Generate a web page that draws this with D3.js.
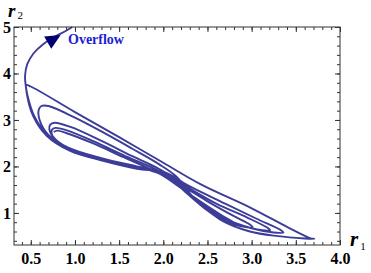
<!DOCTYPE html>
<html>
<head>
<meta charset="utf-8">
<script src="https://cdn.jsdelivr.net/npm/d3@7/dist/d3.min.js"></script>
<style>
  body { margin: 0; background: #fff; }
  svg { display: block; }
  .tick text { font-family: "Liberation Serif", "DejaVu Serif", serif; font-weight: bold; font-size: 16px; fill: #000; }
</style>
</head>
<body>
<script>
//tick values read from the frame
var xTicks = [0.5, 1.0, 1.5, 2.0, 2.5, 3.0, 3.5, 4.0];
var yTicks = [1, 2, 3, 4, 5];
var xMinor = d3.range(4, 41).map(function(d){ return d / 10; });
var yMinor = d3.range(2, 26).map(function(d){ return d / 5; });

//trajectory (r1, r2), in order
var r1 = [
  0.76, 0.80, 0.90, 1.20, 1.55, 1.85, 2.05,
  2.25, 2.50, 2.68, 2.78, 2.82,
  2.80, 2.65, 2.40, 2.15, 1.95,
  1.70, 1.35, 1.00, 0.82, 0.74, 0.74,
  0.78, 0.90, 1.20, 1.60, 1.90, 2.10,
  2.30, 2.55, 2.80, 2.95, 3.01,
  2.98, 2.80, 2.50, 2.20, 1.97,
  1.70, 1.30, 0.97, 0.78, 0.71, 0.72,
  0.77, 0.95, 1.30, 1.65, 1.95, 2.12,
  2.32, 2.60, 2.90, 3.12, 3.21,
  3.18, 2.95, 2.60, 2.25, 2.00,
  1.70, 1.30, 0.93, 0.70, 0.60, 0.59, 0.62,
  0.70, 1.00, 1.35, 1.65, 1.95, 2.15,
  2.35, 2.65, 3.00, 3.25, 3.36,
  3.33, 3.05, 2.70, 2.30, 2.02,
  1.70, 1.32, 0.94, 0.68, 0.53, 0.455, 0.45,
  0.50, 1.00, 1.50, 2.00, 2.42, 3.00, 3.40, 3.66, 3.71,
  3.60, 3.30, 2.98, 2.65, 2.42, 2.22, 2.05,
  1.75, 1.35, 0.96, 0.69, 0.54, 0.46, 0.44
];
var r2 = [
  2.74, 2.77, 2.72, 2.50, 2.20, 1.95, 1.78,
  1.45, 1.05, 0.82, 0.74, 0.73,
  0.79, 0.96, 1.27, 1.60, 1.85,
  1.98, 2.15, 2.33, 2.50, 2.68, 2.79,
  2.83, 2.78, 2.55, 2.20, 1.95, 1.75,
  1.40, 1.00, 0.76, 0.69, 0.69,
  0.75, 0.93, 1.25, 1.60, 1.87,
  2.00, 2.17, 2.36, 2.58, 2.80, 2.90,
  2.94, 2.85, 2.55, 2.22, 1.95, 1.74,
  1.35, 0.95, 0.72, 0.63, 0.63,
  0.68, 0.90, 1.20, 1.58, 1.87,
  2.00, 2.18, 2.40, 2.68, 3.00, 3.22, 3.30,
  3.30, 3.05, 2.70, 2.38, 2.05, 1.78,
  1.32, 0.92, 0.67, 0.58, 0.58,
  0.63, 0.88, 1.20, 1.57, 1.87,
  1.95, 2.12, 2.34, 2.66, 3.07, 3.57, 3.75,
  3.72, 3.17, 2.63, 2.08, 1.62, 1.10, 0.70, 0.46, 0.44,
  0.45, 0.50, 0.60, 0.85, 1.20, 1.55, 1.82,
  1.96, 2.13, 2.34, 2.67, 3.08, 3.55, 3.78
];
//escape branch leaving the frame at the top
var escR1 = [0.44, 0.435, 0.46, 0.53, 0.64, 0.78, 0.90, 0.97];
var escR2 = [3.78, 3.95, 4.20, 4.43, 4.63, 4.80, 4.92, 5.00];
var arrowAt = [0.76, 4.74];
var noteText = "Overflow";

var width = 371, height = 273;
var margin = {left: 14, right: 31, top: 27, bottom: 28};

var svg = d3.select("body").append("svg")
    .attr("width", width)
    .attr("height", height);

var x = d3.scaleLinear().domain([0.31, 4.0]).range([margin.left, width - margin.right]);
var y = d3.scaleLinear().domain([0.31, 5.0]).range([height - margin.bottom, margin.top]);

var x0 = x.range()[0], x1 = x.range()[1], y0 = y.range()[0], y1 = y.range()[1];

//trajectory
var pts = r1.map(function(d, i){ return [d, r2[i]]; });
var esc = escR1.map(function(d, i){ return [d, escR2[i]]; });

var line = d3.line()
    .x(function(d){ return x(d[0]); })
    .y(function(d){ return y(d[1]); })
    .curve(d3.curveCatmullRom.alpha(0.5));

svg.append("path")
    .datum(pts.concat(esc))
    .attr("d", line)
    .attr("fill", "none")
    .attr("stroke", "#3d3d99")
    .attr("stroke-width", 1.9)
    .attr("stroke-linejoin", "round");

//arrow head on the escape branch
var a = esc[4], b = esc[6];
var ang = Math.atan2(y(b[1]) - y(a[1]), x(b[0]) - x(a[0])) * 180 / Math.PI;
svg.append("path")
    .attr("d", "M8,0 L-7,-7 L-7,7 Z")
    .attr("transform", "translate(" + x(arrowAt[0]) + "," + y(arrowAt[1]) + ") rotate(" + ang + ")")
    .attr("fill", "#00006e");

svg.append("text")
    .attr("x", 68)
    .attr("y", 44)
    .attr("font-family", "Liberation Serif, serif")
    .attr("font-weight", "bold")
    .attr("font-size", 14)
    .attr("fill", "#1e1ed2")
    .text(noteText);

//frame ticks, pointing inward
function axisGroup(axis, tx, ty, labels){
    var g = svg.append("g")
        .attr("transform", "translate(" + tx + "," + ty + ")")
        .call(axis);
    g.select(".domain").remove();
    g.selectAll("line").attr("stroke", "#333");
    if (!labels) g.selectAll("text").remove();
    return g;
}

axisGroup(d3.axisBottom(x).tickValues(xMinor).tickSize(-3).tickFormat(""), 0, y0, false);
axisGroup(d3.axisTop(x).tickValues(xMinor).tickSize(-3).tickFormat(""), 0, y1, false);
axisGroup(d3.axisLeft(y).tickValues(yMinor).tickSize(-3).tickFormat(""), x0, 0, false);
axisGroup(d3.axisRight(y).tickValues(yMinor).tickSize(-3).tickFormat(""), x1, 0, false);

axisGroup(d3.axisBottom(x).tickValues(xTicks).tickSize(-5).tickPadding(8).tickFormat(d3.format(".1f")), 0, y0, true);
axisGroup(d3.axisTop(x).tickValues(xTicks).tickSize(-5).tickFormat(""), 0, y1, false);
axisGroup(d3.axisLeft(y).tickValues(yTicks).tickSize(-5).tickPadding(3).tickFormat(d3.format("d")), x0, 0, true);
axisGroup(d3.axisRight(y).tickValues(yTicks).tickSize(-5).tickFormat(""), x1, 0, false);

svg.append("rect")
    .attr("x", x0).attr("y", y1)
    .attr("width", x1 - x0).attr("height", y0 - y1)
    .attr("fill", "none")
    .attr("stroke", "#333")
    .attr("stroke-width", 1);

//axis names
function axisName(tx, ty, size, sub, subDy){
    var t = svg.append("text")
        .attr("x", tx).attr("y", ty)
        .attr("font-family", "Liberation Serif, serif");
    t.append("tspan")
        .attr("font-weight", "bold").attr("font-style", "italic").attr("font-size", size)
        .text("r");
    t.append("tspan")
        .attr("font-size", 11).attr("dx", 2).attr("dy", subDy)
        .text(sub);
}
axisName(8, 17, 19, "2", 2);
axisName(350, 246, 21, "1", 4);
</script>
</body>
</html>
